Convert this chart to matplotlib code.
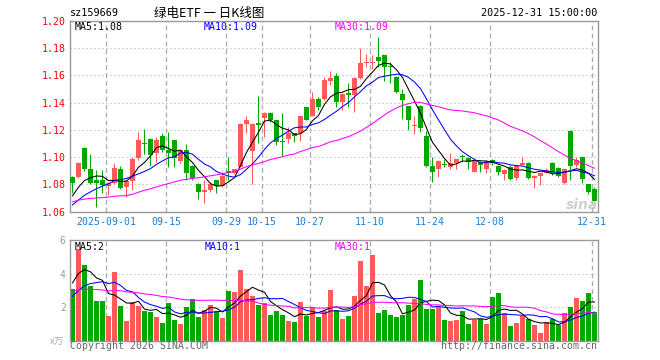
import matplotlib
matplotlib.use('Agg')
import matplotlib.pyplot as plt
import numpy as np
import pandas as pd

plt.rcParams['font.family'] = ['DejaVu Sans Mono', 'Noto Sans CJK SC']

# ---------------- data ----------------
opens = [1.0857, 1.0857, 1.1070, 1.0913, 1.0833, 1.0833, 1.0789, 1.0808, 1.0913, 1.0779,
         1.0825, 1.0992, 1.1098, 1.1134, 1.1033, 1.1158, 1.1053, 1.1126, 1.0972, 1.1053,
         1.0935, 1.0803, 1.0747, 1.0759, 1.0833, 1.0789, 1.0896, 1.0886, 1.0930, 1.1244,
         1.1048, 1.1245, 1.1285, 1.1327, 1.1273, 1.1112, 1.1134, 1.1175, 1.1175, 1.1366,
         1.1303, 1.1427, 1.1427, 1.1560, 1.1596, 1.1408, 1.1464, 1.1460, 1.1580, 1.1690,
         1.1690, 1.1733, 1.1750, 1.1665, 1.1591, 1.1464, 1.1376, 1.1228, 1.1376, 1.1156,
         1.0936, 1.0910, 1.0945, 1.0930, 1.0960, 1.1000, 1.0992, 1.0894, 1.0967, 1.0910,
         1.0980, 1.0936, 1.0877, 1.0930, 1.0845, 1.0943, 1.0960, 1.0845, 1.0862, 1.0887,
         1.0960, 1.0919, 1.0812, 1.1195, 1.0943, 1.1000, 1.0804, 1.0765]
highs = [1.0860, 1.0962, 1.1072, 1.1026, 1.0906, 1.0906, 1.0820, 1.0955, 1.0937, 1.0830,
         1.1000, 1.1188, 1.1205, 1.1140, 1.1146, 1.1175, 1.1188, 1.1130, 1.1060, 1.1100,
         1.0945, 1.0810, 1.0833, 1.0815, 1.0835, 1.0900, 1.0999, 1.0915, 1.1250, 1.1303,
         1.1250, 1.1449, 1.1330, 1.1330, 1.1275, 1.1322, 1.1220, 1.1180, 1.1305, 1.1370,
         1.1480, 1.1440, 1.1590, 1.1630, 1.1616, 1.1470, 1.1547, 1.1587, 1.1800, 1.1758,
         1.1750, 1.1880, 1.1752, 1.1700, 1.1595, 1.1500, 1.1378, 1.1303, 1.1380, 1.1190,
         1.1004, 1.0980, 1.0985, 1.1029, 1.0990, 1.1020, 1.1000, 1.0980, 1.0970, 1.0980,
         1.0985, 1.0940, 1.0910, 1.0940, 1.0940, 1.1000, 1.0962, 1.0870, 1.0890, 1.0920,
         1.0962, 1.0930, 1.0915, 1.1197, 1.1000, 1.1002, 1.0806, 1.0780]
lows = [1.0735, 1.0850, 1.0900, 1.0800, 1.0637, 1.0740, 1.0723, 1.0800, 1.0765, 1.0710,
        1.0760, 1.0980, 1.1024, 1.0937, 1.0967, 1.1040, 1.0930, 1.0930, 1.0960, 1.0833,
        1.0833, 1.0696, 1.0666, 1.0745, 1.0740, 1.0780, 1.0833, 1.0880, 1.0925, 1.1175,
        1.0803, 1.1102, 1.1150, 1.1260, 1.1090, 1.1009, 1.1102, 1.1114, 1.1120, 1.1270,
        1.1300, 1.1350, 1.1420, 1.1530, 1.1366, 1.1347, 1.1370, 1.1334, 1.1575, 1.1660,
        1.1645, 1.1660, 1.1560, 1.1543, 1.1470, 1.1280, 1.1200, 1.1170, 1.1187, 1.0930,
        1.0821, 1.0853, 1.0930, 1.0910, 1.0910, 1.0970, 1.0910, 1.0890, 1.0894, 1.0887,
        1.0940, 1.0870, 1.0833, 1.0830, 1.0830, 1.0940, 1.0838, 1.0772, 1.0798, 1.0882,
        1.0870, 1.0853, 1.0805, 1.0830, 1.0930, 1.0810, 1.0730, 1.0670]
closes = [1.0813, 1.0960, 1.0913, 1.0813, 1.0813, 1.0798, 1.0808, 1.0918, 1.0776, 1.0825,
          1.0987, 1.1126, 1.1094, 1.1016, 1.1126, 1.1053, 1.1033, 1.0992, 1.1053, 1.0882,
          1.0845, 1.0747, 1.0759, 1.0800, 1.0789, 1.0862, 1.0886, 1.0910, 1.1244, 1.1273,
          1.1244, 1.1240, 1.1327, 1.1273, 1.1114, 1.1109, 1.1180, 1.1156, 1.1303, 1.1273,
          1.1427, 1.1370, 1.1567, 1.1579, 1.1408, 1.1464, 1.1460, 1.1580, 1.1689, 1.1695,
          1.1700, 1.1709, 1.1660, 1.1660, 1.1480, 1.1420, 1.1273, 1.1232, 1.1212, 1.0936,
          1.0894, 1.0975, 1.0940, 1.0960, 1.0985, 1.0999, 1.0967, 1.0975, 1.0943, 1.0975,
          1.0955, 1.0894, 1.0906, 1.0838, 1.0936, 1.0960, 1.0845, 1.0862, 1.0887, 1.0906,
          1.0887, 1.0862, 1.0912, 1.0936, 1.0980, 1.0838, 1.0747, 1.0682]
volumes = [3.10, 5.44, 4.54, 3.24, 2.38, 2.38, 1.48, 4.12, 2.08, 1.18,
           2.30, 2.08, 1.78, 1.72, 1.42, 1.06, 2.26, 1.24, 1.00, 2.02,
           2.50, 1.42, 1.84, 2.14, 1.78, 1.36, 2.98, 2.92, 4.24, 3.10,
           2.68, 2.14, 2.26, 1.54, 1.78, 1.54, 1.18, 1.12, 2.32, 1.50,
           2.02, 1.42, 1.78, 3.04, 1.84, 1.30, 1.48, 2.64, 4.74, 3.28,
           5.08, 1.66, 1.84, 1.54, 1.42, 1.56, 2.14, 2.50, 3.64, 1.90,
           1.90, 2.02, 1.24, 1.18, 1.24, 1.78, 1.00, 1.24, 1.30, 1.00,
           2.62, 2.86, 1.66, 0.88, 1.06, 1.50, 1.30, 0.96, 0.46, 1.12,
           1.30, 0.96, 1.66, 2.02, 2.56, 2.38, 2.86, 1.72]
# estimated sessions before the first visible candle (needed for the moving averages)
prior_close = [1.062, 1.065, 1.068, 1.070, 1.072, 1.071, 1.069, 1.073, 1.075, 1.070,
               1.068, 1.066, 1.069, 1.071, 1.068, 1.066, 1.065, 1.067, 1.069, 1.064,
               1.060, 1.057, 1.056, 1.058, 1.061, 1.064, 1.067, 1.071, 1.0747]
prior_volume = [2.8, 3.2, 3.5, 2.9, 3.1, 3.4, 2.7, 3.0, 3.3, 2.9,
                3.2, 3.6, 2.8, 3.0, 3.1, 2.9, 3.3, 3.0, 3.2, 2.9,
                1.9, 1.7, 2.0, 1.8, 1.8, 2.6, 3.4, 3.9, 4.2]
tick_idx = [6, 16, 26, 32, 40, 50, 60, 70, 87]
tick_labels = ['2025-09-01', '09-15', '09-29', '10-15', '10-27', '11-10', '11-24', '12-08', '12-31']
price_ticks = [1.06, 1.08, 1.10, 1.12, 1.14, 1.16, 1.18, 1.20]
vol_ticks = [2, 4, 6]

# ---------------- figure ----------------
W, H = 660, 360
fig = plt.figure(figsize=(W / 100, H / 100), dpi=100)
fig.patch.set_facecolor('white')


def rect(x0, y0, x1, y1):
    return [x0 / W, 1 - y1 / H, (x1 - x0) / W, (y1 - y0) / H]


RED = '#FF5A5A'
GREEN = '#00A800'
GRID = '#A8A8A8'
FRAME = '#999999'
N = len(closes)
xs = np.arange(N)
BW = 0.83
xc = xs + BW / 2

ax = fig.add_axes(rect(70, 21, 597.5, 211.7))
axv = fig.add_axes(rect(70, 240, 597.5, 340.7))

for a in (ax, axv):
    a.set_xlim(0, 87.92)
    for s in a.spines.values():
        s.set_color(FRAME)
        s.set_linewidth(1.0)
    a.set_xticks(tick_idx)
    a.xaxis.grid(True, color='#B0B0B0', linewidth=1.0, linestyle=(0, (3.5, 2.2)))
    a.set_axisbelow(True)

# price panel
ax.set_ylim(1.06, 1.20)
ax.set_yticks(price_ticks)
ax.set_yticklabels(['%.2f' % v for v in price_ticks])
ax.tick_params(axis='y', length=0, pad=3, labelcolor='#FF0000', labelsize=7.1)
ax.tick_params(axis='x', length=0, pad=3.6, labelcolor='#1B7FD6', labelsize=7.1)
ax.set_xticklabels(tick_labels)
for yv in price_ticks[1:-1]:
    ax.axhline(yv, color=GRID, linewidth=0.72, linestyle=(0, (1, 3)), zorder=0.5)

o = np.array(opens); c = np.array(closes); h = np.array(highs); l = np.array(lows)
up = c >= o
cols = [RED if u else GREEN for u in up]
ax.vlines(xc, l, h, colors=cols, linewidth=0.75, zorder=2)
body_lo = np.minimum(o, c)
body_h = np.maximum(np.abs(c - o), 0.0008)
ax.bar(xs, body_h, width=BW, bottom=body_lo, align='edge', color=cols, linewidth=0, zorder=3)

cs = pd.Series(prior_close + closes)
ma_cols = ['#000000', '#0000FF', '#FF00FF']
for n, col in zip((5, 10, 30), ma_cols):
    m = cs.rolling(n).mean().values[len(prior_close):]
    ax.plot(xc, m, color=col, linewidth=0.75, zorder=4)

# volume panel
axv.set_ylim(0, 6)
axv.set_yticks(vol_ticks)
axv.set_yticklabels([str(v) for v in vol_ticks])
axv.tick_params(axis='y', length=0, pad=3, labelcolor='#999999', labelsize=7.1)
axv.tick_params(axis='x', length=0, labelbottom=False)
for yv in (2, 4):
    axv.axhline(yv, color=GRID, linewidth=0.72, linestyle=(0, (1, 3)), zorder=0.5)
axv.bar(xs, volumes, width=0.86, align='edge', color=cols, linewidth=0, zorder=2)
vs = pd.Series(prior_volume + volumes)
for n, col in zip((5, 10, 30), ma_cols):
    m = vs.rolling(n).mean().values[len(prior_volume):]
    axv.plot(xc, m, color=col, linewidth=0.75, zorder=4)


# ---------------- texts ----------------
def ftext(x, y, s, **kw):
    fig.text(x / W, 1 - y / H, s, va='center', **kw)


ftext(70, 13.5, 'sz159669', fontsize=7.3, color='black')
ftext(209, 13, '绿电ETF 一 日K线图', fontsize=9, color='black', ha='center',
      family=['Noto Sans CJK SC', 'DejaVu Sans'])
ftext(597, 13.5, '2025-12-31 15:00:00', fontsize=7.3, color='black', ha='right')

ftext(75, 26.5, 'MA5:1.08', fontsize=7.1, color='black')
ftext(204, 26.5, 'MA10:1.09', fontsize=7.1, color='#0000FF')
ftext(335, 26.5, 'MA30:1.09', fontsize=7.1, color='#FF00FF')

ftext(75, 247, 'MA5:2', fontsize=7.1, color='black')
ftext(205, 247, 'MA10:1', fontsize=7.1, color='#0000FF')
ftext(335, 247, 'MA30:1', fontsize=7.1, color='#FF00FF')

ftext(64, 341, 'x万', fontsize=6.8, color='#AAAAAA', ha='right',
      family=['Noto Sans CJK SC', 'DejaVu Sans'])
ftext(70, 346, 'Copyright 2026 SINA.COM', fontsize=7.1, color='#666666')
ftext(597, 346, 'http://finance.sina.com.cn', fontsize=7.1, color='#666666', ha='right')

ftext(582, 205, 'sina', fontsize=10, color='#CFCFCF', ha='center', weight='bold',
      style='italic', family=['DejaVu Sans'])

fig.savefig('out.png', dpi=100, facecolor='white')
